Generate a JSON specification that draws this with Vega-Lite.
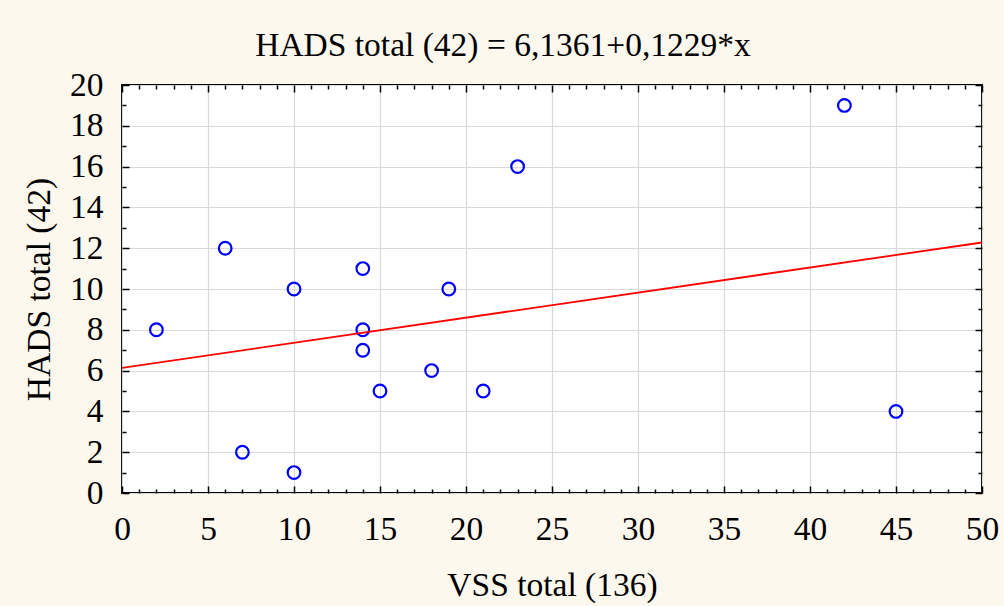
{
  "$schema": "https://vega.github.io/schema/vega-lite/v6.json",
  "autosize": "none",
  "width": 860,
  "height": 408,
  "padding": {"left": 122, "top": 85, "right": 22, "bottom": 113},
  "background": "#fdf8ee",
  "title": {
    "text": "HADS total (42) = 6,1361+0,1229*x",
    "font": "Liberation Serif",
    "fontSize": 33.5,
    "fontWeight": "normal",
    "color": "#000000",
    "anchor": "middle",
    "frame": "group",
    "dx": -49,
    "offset": 5
  },
  "datasets": {
    "pts": [
      {"vss": 2, "hads": 8},
      {"vss": 6, "hads": 12},
      {"vss": 7, "hads": 2},
      {"vss": 10, "hads": 10},
      {"vss": 10, "hads": 1},
      {"vss": 14, "hads": 11},
      {"vss": 14, "hads": 8},
      {"vss": 14, "hads": 7},
      {"vss": 15, "hads": 5},
      {"vss": 18, "hads": 6},
      {"vss": 19, "hads": 10},
      {"vss": 21, "hads": 5},
      {"vss": 23, "hads": 16},
      {"vss": 42, "hads": 19},
      {"vss": 45, "hads": 4}
    ],
    "fit": [
      {"vss": 0, "hads": 6.1361},
      {"vss": 50, "hads": 12.2811}
    ]
  },
  "layer": [
    {
      "data": {"name": "pts"},
      "mark": {"type": "point", "shape": "circle", "filled": false, "stroke": "#0000ff", "strokeWidth": 2.2, "size": 160, "opacity": 1},
      "encoding": {
        "x": {
          "field": "vss", "type": "quantitative",
          "scale": {"domain": [0, 50], "nice": false, "zero": false},
          "axis": {
            "orient": "bottom",
            "title": "VSS total (136)",
            "values": [0,1,2,3,4,5,6,7,8,9,10,11,12,13,14,15,16,17,18,19,20,21,22,23,24,25,26,27,28,29,30,31,32,33,34,35,36,37,38,39,40,41,42,43,44,45,46,47,48,49,50],
            "labelExpr": "datum.value % 5 === 0 ? datum.label : ''",
            "tickSize": {"condition": {"test": "datum.value % 5 === 0", "value": -7}, "value": -4},
            "gridOpacity": {"condition": {"test": "datum.value % 5 === 0", "value": 1}, "value": 0},
            "grid": true,
            "labelFlush": false,
            "labelOverlap": false,
            "labelFont": "Liberation Serif",
            "labelFontSize": 33.5,
            "labelPadding": 27,
            "titleFont": "Liberation Serif",
            "titleFontSize": 33.5,
            "titlePadding": 21
          }
        },
        "y": {
          "field": "hads", "type": "quantitative",
          "scale": {"domain": [0, 20], "nice": false, "zero": false},
          "axis": {
            "orient": "left",
            "title": "HADS total (42)",
            "values": [0,1,2,3,4,5,6,7,8,9,10,11,12,13,14,15,16,17,18,19,20],
            "labelExpr": "datum.value % 2 === 0 ? datum.label : ''",
            "tickSize": {"condition": {"test": "datum.value % 2 === 0", "value": -7}, "value": -4},
            "gridOpacity": {"condition": {"test": "datum.value % 2 === 0", "value": 1}, "value": 0},
            "grid": true,
            "labelFlush": false,
            "labelOverlap": false,
            "labelFont": "Liberation Serif",
            "labelFontSize": 33.5,
            "labelPadding": 26,
            "titleFont": "Liberation Serif",
            "titleFontSize": 33.5,
            "titlePadding": 13
          }
        }
      }
    },
    {
      "data": {"name": "fit"},
      "mark": {"type": "line", "color": "#ff0000", "strokeWidth": 1.8, "clip": true},
      "encoding": {
        "x": {"field": "vss", "type": "quantitative", "axis": null},
        "y": {"field": "hads", "type": "quantitative", "axis": null}
      }
    },
    {
      "data": {"name": "pts"},
      "mark": {"type": "point", "opacity": 0},
      "encoding": {
        "x": {
          "field": "vss", "type": "quantitative",
          "axis": {
            "orient": "top",
            "title": null,
            "labels": false,
            "grid": false,
            "domain": false,
            "values": [0,1,2,3,4,5,6,7,8,9,10,11,12,13,14,15,16,17,18,19,20,21,22,23,24,25,26,27,28,29,30,31,32,33,34,35,36,37,38,39,40,41,42,43,44,45,46,47,48,49,50],
            "tickSize": {"condition": {"test": "datum.value % 5 === 0", "value": -7}, "value": -4}
          }
        },
        "y": {
          "field": "hads", "type": "quantitative",
          "axis": {
            "orient": "right",
            "title": null,
            "labels": false,
            "grid": false,
            "domain": false,
            "values": [0,1,2,3,4,5,6,7,8,9,10,11,12,13,14,15,16,17,18,19,20],
            "tickSize": {"condition": {"test": "datum.value % 2 === 0", "value": -7}, "value": -4}
          }
        }
      }
    }
  ],
  "resolve": {"axis": {"x": "independent", "y": "independent"}},
  "config": {
    "view": {"fill": "#ffffff", "stroke": "#000000", "strokeWidth": 2},
    "axis": {
      "domain": false,
      "tickColor": "#000000",
      "tickWidth": 1.5,
      "gridColor": "#d9d9d9",
      "gridWidth": 1.2,
      "labelFont": "Liberation Serif",
      "labelColor": "#000000",
      "titleFont": "Liberation Serif",
      "titleFontWeight": "normal",
      "titleColor": "#000000"
    }
  }
}
